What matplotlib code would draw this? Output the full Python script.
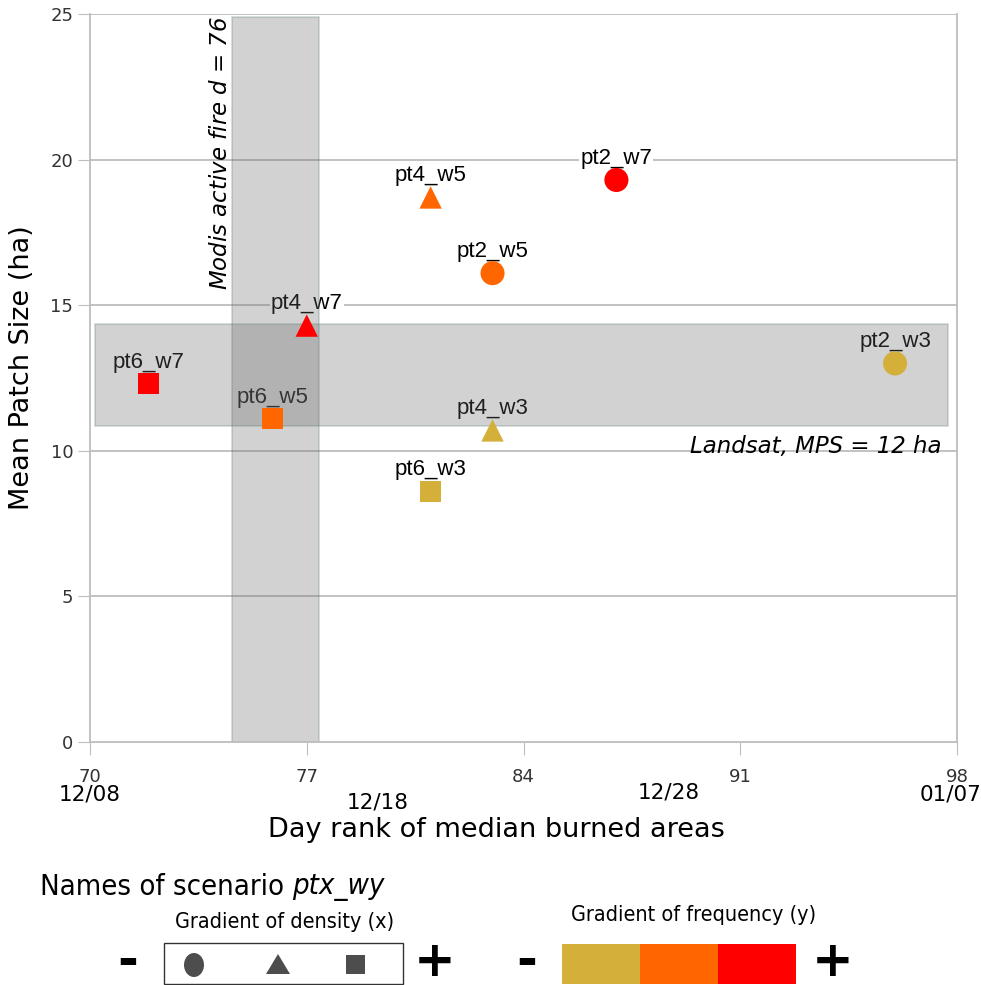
import matplotlib
matplotlib.use("Agg")
import matplotlib.pyplot as plt
from matplotlib.patches import Rectangle, Polygon, Ellipse
from matplotlib import font_manager

plt.rcParams['font.family'] = ['DejaVu Sans']

# scenario data
names = ["pt6_w7", "pt6_w5", "pt4_w7", "pt4_w5", "pt2_w5", "pt2_w7", "pt2_w3", "pt4_w3", "pt6_w3"]
day_rank = [71.9, 75.9, 77.0, 81.0, 83.0, 87.0, 96.0, 83.0, 81.0]
mean_patch = [12.3, 11.1, 14.3, 18.7, 16.1, 19.3, 13.0, 10.7, 8.6]
density = ["pt6", "pt6", "pt4", "pt4", "pt2", "pt2", "pt2", "pt4", "pt6"]
frequency = ["w7", "w5", "w7", "w5", "w5", "w7", "w3", "w3", "w3"]

marker_of = {"pt2": "o", "pt4": "^", "pt6": "s"}
size_of = {"pt2": 300, "pt4": 260, "pt6": 230}
color_of = {"w3": "#d4af3a", "w5": "#ff6600", "w7": "#ff0000"}

# reference ranges
modis_range = [74.6, 77.4]
modis_top = 24.9
landsat_range = [10.85, 14.35]
landsat_x = [70.15, 97.7]

x_ticks = [70, 77, 84, 91, 98]
date_pos = [70, 79.3, 88.7, 97.8]
date_labels = ["12/08", "12/18", "12/28", "01/07"]
date_offset = [795, 803, 793, 795]
y_ticks = [0, 5, 10, 15, 20, 25]

narrow = font_manager.FontProperties(family="DejaVu Sans", stretch="condensed")
is_narrow = "Condensed" in font_manager.findfont(narrow)

fig = plt.figure(figsize=(9.81, 9.85), dpi=100)
ax = fig.add_axes([90 / 981, 1 - 742 / 985, 867 / 981, 728 / 985])

grid_col = "#bdbdbd"
ax.set_xlim(70, 98)
ax.set_ylim(0, 25)
for y in y_ticks[1:]:
    ax.axhline(y, color=grid_col, lw=1.3, zorder=0)
for s in ax.spines.values():
    s.set_color(grid_col)
    s.set_linewidth(1.3)
ax.spines['top'].set_visible(False)

ax.set_xticks(x_ticks)
ax.tick_params(axis='x', length=9, color=grid_col, labelcolor="#333333", labelsize=13, pad=10)
ax.set_yticks(y_ticks)
ax.tick_params(axis='y', length=9, color=grid_col, labelsize=13, labelcolor="#333333", pad=3)

# calendar dates under the day ranks
for x, t, py in zip(date_pos, date_labels, date_offset):
    ax.text(x, (742 - py) / 728 * 25, t, ha="center", va="center", fontsize=15.5,
            clip_on=False)

ax.set_xlabel("Day rank of median burned areas", fontsize=19.5)
ax.xaxis.set_label_coords((496 - 90) / 867, -(830 - 742) / 728)
ax.xaxis.label.set_va("center")
ax.set_ylabel("Mean Patch Size (ha)", fontsize=19.5)
ax.yaxis.set_label_coords(-(90 - 22) / 867, (742 - 368) / 728)
ax.yaxis.label.set_va("center")

# point labels
for n, x, y in zip(names, day_rank, mean_patch):
    ax.annotate(n, (x, y), xytext=(0, 8), textcoords="offset points", ha="center",
                va="bottom", fontsize=16, zorder=1, family="Liberation Sans",
                bbox=dict(boxstyle="square,pad=0.05", fc="white", ec="none"))

# shaded reference bands
ax.add_patch(Rectangle((modis_range[0], 0), modis_range[1] - modis_range[0], modis_top,
                       fc="#6a6a6a", alpha=0.3, ec="#5f7f7f", lw=1.2, zorder=2))
ax.add_patch(Rectangle((landsat_x[0], landsat_range[0]), landsat_x[1] - landsat_x[0],
                       landsat_range[1] - landsat_range[0],
                       fc="#6a6a6a", alpha=0.3, ec="#5f7f7f", lw=1.2, zorder=2))

ax.text(74.2, 24.95, "Modis active fire $d$ = 76", rotation=90, ha="center", va="top",
        fontsize=16.5, style="italic")
ax.text(97.5, 10.15, "Landsat, MPS = 12 ha", ha="right", va="center",
        fontsize=16.5, style="italic")

for x, y, d, f in zip(day_rank, mean_patch, density, frequency):
    ax.scatter(x, y, marker=marker_of[d], s=size_of[d], c=color_of[f], edgecolors="none",
               zorder=5, clip_on=False)

# bottom legend drawn in pixel coordinates
lg = fig.add_axes([0, 0, 1, 1], zorder=-1)
lg.set_xlim(0, 981)
lg.set_ylim(985, 0)
lg.axis("off")
if is_narrow:
    lfam = dict(family="DejaVu Sans", stretch="condensed")
    big, small = 21, 15.5
else:
    lfam = dict(family="Liberation Sans")
    big, small = 19, 14.5
t1 = lg.text(40, 887, "Names of scenario ", fontsize=big, va="center", ha="left", **lfam)
fig.canvas.draw()
bb = t1.get_window_extent()
lg.text(bb.x1, 887, "ptx_wy", fontsize=big, va="center", ha="left", style="italic", **lfam)
lg.text(285, 922, "Gradient of density (x)", fontsize=small, ha="center", va="center", **lfam)
lg.text(694, 915, "Gradient of frequency (y)", fontsize=small, ha="center", va="center", **lfam)
lg.add_patch(Rectangle((164, 943), 239, 41, fc="white", ec="#333333", lw=1))
lg.add_patch(Ellipse((194, 965), 20, 24, fc="#4d4d4d", ec="none"))
lg.add_patch(Polygon([[266, 974], [290, 974], [278, 954]], fc="#4d4d4d", ec="none"))
lg.add_patch(Rectangle((346, 955), 19, 19, fc="#4d4d4d", ec="none"))
for i, f in enumerate(["w3", "w5", "w7"]):
    lg.add_patch(Rectangle((562 + 78 * i, 944), 78, 40, fc=color_of[f], ec="none"))
for x, t in [(128, "-"), (435, "+"), (527, "-"), (833, "+")]:
    lg.text(x, 962, t, fontsize=36, fontweight="bold", ha="center", va="center")

fig.savefig("out.png", dpi=100)
